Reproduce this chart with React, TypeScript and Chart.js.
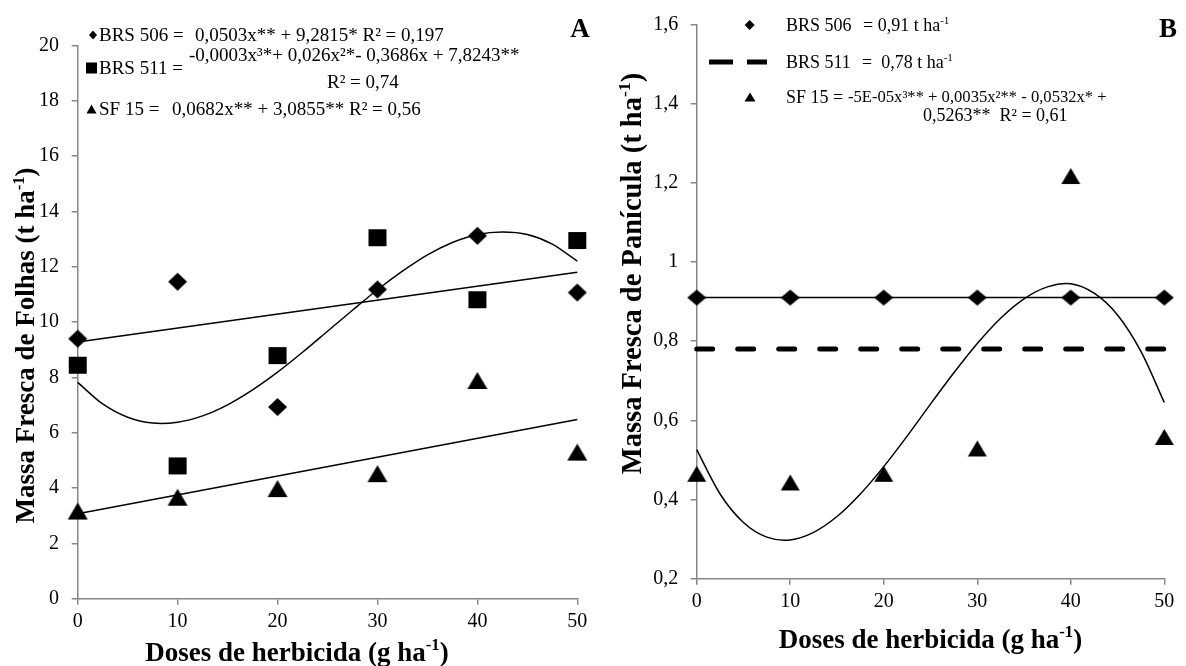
import React, { useEffect, useRef } from 'react';
import { Chart, registerables } from 'chart.js';

Chart.register(...registerables);

const SERIF = '"Liberation Serif", "Times New Roman", Times, serif';
const AXIS_GRAY = '#878787';
const TICK_SIZE = 20;
const LEG = 19;
const LEG_B = 18;

// ---------- Chart A : Massa Fresca de Folhas ----------
const dosesA = [0, 10, 20, 30, 40, 50];
const brs506A = [9.40, 11.46, 6.93, 11.18, 13.12, 11.07];
const brs511A = [8.44, 4.80, 8.79, 13.05, 10.81, 12.95];
const sf15A = [3.17, 3.67, 3.98, 4.52, 7.89, 5.30];
const fitLinX = [0, 50];
const brs506FitA = [9.28, 11.80];
const sf15FitA = [3.07, 6.48];
const fitCurveX = [0, 2.5, 5, 7.5, 10, 12.5, 15, 17.5, 20, 22.5, 25, 27.5, 30, 32.5, 35, 37.5, 40, 42.5, 45, 47.5, 50];
const brs511FitA = [7.82, 7.04, 6.56, 6.35, 6.38, 6.61, 7.01, 7.55, 8.19, 8.91, 9.67, 10.43, 11.17, 11.84, 12.43, 12.88, 13.17, 13.26, 13.17, 12.82, 12.20];
const xTicks = [0, 10, 20, 30, 40, 50];
const xTickLabels = ['0', '10', '20', '30', '40', '50'];
const yTicksA = [0, 2, 4, 6, 8, 10, 12, 14, 16, 18, 20];
const yTickLabelsA = ['0', '2', '4', '6', '8', '10', '12', '14', '16', '18', '20'];

// ---------- Chart B : Massa Fresca de Panícula ----------
const dosesB = [0, 10, 20, 30, 40, 50];
const brs506B = [0.91, 0.91, 0.91, 0.91, 0.91, 0.91];
const brs511LineX = [0, 50];
const brs511B = [0.78, 0.78];
const sf15B = [0.465, 0.443, 0.465, 0.529, 1.217, 0.558];
const sf15FitB = [0.526, 0.414, 0.342, 0.305, 0.298, 0.317, 0.357, 0.414, 0.483, 0.560, 0.641, 0.720, 0.794, 0.858, 0.907, 0.937, 0.945, 0.921, 0.866, 0.774, 0.645];
const yTicksB = [0.2, 0.4, 0.6, 0.8, 1.0, 1.2, 1.4, 1.6];
const yTickLabelsB = ['0,2', '0,4', '0,6', '0,8', '1', '1,2', '1,4', '1,6'];

const pts = (xs: number[], ys: number[]) => xs.map((x, i) => ({ x, y: ys[i] }));

type Shape = 'diamond' | 'square' | 'triangle';

function markerPath(ctx: CanvasRenderingContext2D, shape: Shape, x: number, y: number, w: number, h: number) {
  ctx.beginPath();
  if (shape === 'diamond') {
    ctx.moveTo(x, y - h / 2);
    ctx.lineTo(x + w / 2, y);
    ctx.lineTo(x, y + h / 2);
    ctx.lineTo(x - w / 2, y);
  } else if (shape === 'square') {
    ctx.rect(x - w / 2, y - h / 2, w, h);
  } else {
    ctx.moveTo(x, y - h / 2);
    ctx.lineTo(x + w / 2, y + h / 2);
    ctx.lineTo(x - w / 2, y + h / 2);
  }
  ctx.closePath();
}

function drawMarker(ctx: CanvasRenderingContext2D, shape: Shape, x: number, y: number, w: number, h: number) {
  markerPath(ctx, shape, x, y, w, h);
  ctx.fillStyle = '#000';
  ctx.fill();
}

function makeMarker(shape: Shape, w: number, h: number) {
  const c = document.createElement('canvas');
  c.width = Math.ceil(w) + 2;
  c.height = Math.ceil(h) + 2;
  const ctx = c.getContext('2d') as CanvasRenderingContext2D;
  drawMarker(ctx, shape, c.width / 2, c.height / 2, w, h);
  return c;
}

type Seg = [string, boolean?];

function rich(ctx: CanvasRenderingContext2D, segs: Seg[], x: number, cy: number, size: number, bold: boolean, align: 'left' | 'center') {
  const b = bold ? 'bold ' : '';
  const base = `${b}${size}px ${SERIF}`;
  const sup = `${b}${(size * 0.62).toFixed(1)}px ${SERIF}`;
  let total = 0;
  const ws = segs.map(([t, s]) => {
    ctx.font = s ? sup : base;
    const m = ctx.measureText(t).width;
    total += m;
    return m;
  });
  let cx = align === 'center' ? x - total / 2 : x;
  const baseY = cy + size * 0.33;
  ctx.fillStyle = '#000';
  ctx.textAlign = 'left';
  ctx.textBaseline = 'alphabetic';
  segs.forEach(([t, s], i) => {
    ctx.font = s ? sup : base;
    ctx.fillText(t, cx, s ? baseY - size * 0.4 : baseY);
    cx += ws[i];
  });
}

function scaleCfg(axis: 'x' | 'y', min: number, max: number, ticks: number[], labels: string[], fit: number, padding: number) {
  return {
    type: 'linear',
    position: axis === 'x' ? 'bottom' : 'left',
    min,
    max,
    afterBuildTicks: (s: any) => {
      s.ticks = ticks.map((v) => ({ value: v }));
    },
    afterFit: (s: any) => {
      if (axis === 'x') s.height = fit;
      else s.width = fit;
    },
    ticks: {
      autoSkip: false,
      maxRotation: 0,
      minRotation: 0,
      padding,
      color: '#000',
      font: { family: SERIF, size: TICK_SIZE },
      callback: (v: any) => {
        const i = ticks.findIndex((t) => Math.abs(t - Number(v)) < 1e-9);
        return i >= 0 ? labels[i] : '';
      },
    },
    grid: {
      display: true,
      drawOnChartArea: false,
      drawTicks: true,
      tickLength: 6,
      color: AXIS_GRAY,
      lineWidth: 1.5,
    },
    border: { display: true, color: AXIS_GRAY, width: 1.5 },
    title: { display: false },
  };
}

const annotA = {
  id: 'annotA',
  afterDraw(chart: any) {
    const ctx: CanvasRenderingContext2D = chart.ctx;
    ctx.save();
    drawMarker(ctx, 'diamond', 93, 35, 8, 9);
    rich(ctx, [['BRS 506 =']], 99, 35, LEG, false, 'left');
    rich(ctx, [['0,0503x** + 9,2815* R² = 0,197']], 195, 35, LEG, false, 'left');
    drawMarker(ctx, 'square', 91.5, 68, 11, 11);
    rich(ctx, [['BRS 511 =']], 99, 68, LEG, false, 'left');
    rich(ctx, [['-0,0003x³*+ 0,026x²*- 0,3686x + 7,8243**']], 189, 55, LEG, false, 'left');
    rich(ctx, [['R² = 0,74']], 327, 82, LEG, false, 'left');
    drawMarker(ctx, 'triangle', 91.5, 109, 10, 9);
    rich(ctx, [['SF 15 =']], 99, 109, LEG, false, 'left');
    rich(ctx, [['0,0682x** + 3,0855** R² = 0,56']], 172, 109, LEG, false, 'left');
    rich(ctx, [['A']], 580, 28, 27, true, 'center');
    rich(ctx, [['Doses de herbicida (g ha'], ['-1', true], [')']], 297, 652, 27, true, 'center');
    ctx.translate(25.5, 345.5);
    ctx.rotate(-Math.PI / 2);
    rich(ctx, [['Massa Fresca de Folhas (t ha'], ['-1', true], [')']], 0, 0, 27, true, 'center');
    ctx.restore();
  },
};

const annotB = {
  id: 'annotB',
  afterDraw(chart: any) {
    const ctx: CanvasRenderingContext2D = chart.ctx;
    ctx.save();
    drawMarker(ctx, 'diamond', 156.6, 25, 10, 10);
    rich(ctx, [['BRS 506']], 193, 25, LEG_B, false, 'left');
    rich(ctx, [['= 0,91 t ha'], ['-1', true]], 270, 25, LEG_B, false, 'left');
    ctx.save();
    ctx.strokeStyle = '#000';
    ctx.lineWidth = 5;
    ctx.setLineDash([24, 14]);
    ctx.beginPath();
    ctx.moveTo(116, 62);
    ctx.lineTo(174, 62);
    ctx.stroke();
    ctx.restore();
    rich(ctx, [['BRS 511']], 193, 62, LEG_B, false, 'left');
    rich(ctx, [['=  0,78 t ha'], ['-1', true]], 269, 62, LEG_B, false, 'left');
    drawMarker(ctx, 'triangle', 157, 97, 11, 9);
    rich(ctx, [['SF 15 =']], 193, 97, LEG_B, false, 'left');
    rich(ctx, [['-5E-05x³** + 0,0035x²** - 0,0532x* +']], 255, 97, 16.6, false, 'left');
    rich(ctx, [['0,5263**  R² = 0,61']], 330, 115, LEG_B, false, 'left');
    rich(ctx, [['B']], 575, 28, 27, true, 'center');
    rich(ctx, [['Doses de herbicida (g ha'], ['-1', true], [')']], 337.5, 639, 27, true, 'center');
    ctx.translate(38.5, 273.5);
    ctx.rotate(-Math.PI / 2);
    rich(ctx, [['Massa Fresca de Panícula (t ha'], ['-1', true], [')']], 0, 0, 28.5, true, 'center');
    ctx.restore();
  },
};

export default function App() {
  const refA = useRef<HTMLCanvasElement | null>(null);
  const refB = useRef<HTMLCanvasElement | null>(null);

  useEffect(() => {
    if (!refA.current || !refB.current) return;
    const diamondBig = makeMarker('diamond', 19, 18);
    const squareBig = makeMarker('square', 18, 17);
    const triBig = makeMarker('triangle', 20, 17);
    const diamondB = makeMarker('diamond', 19, 16);
    const triB = makeMarker('triangle', 19, 16);

    const pointDs = (label: string, data: any[], img: any) => ({
      label,
      data,
      pointStyle: img,
      pointRadius: 9,
      pointHoverRadius: 9,
      showLine: false,
      clip: false,
      order: 1,
    });
    const lineDs = (label: string, data: any[], extra: any = {}) => ({
      label,
      data,
      showLine: true,
      pointRadius: 0,
      pointHoverRadius: 0,
      borderColor: '#000',
      borderWidth: 1.5,
      fill: false,
      clip: false,
      order: 2,
      ...extra,
    });

    const chartA = new Chart(refA.current, {
      type: 'scatter',
      data: {
        datasets: [
          pointDs('BRS 506', pts(dosesA, brs506A), diamondBig),
          pointDs('BRS 511', pts(dosesA, brs511A), squareBig),
          pointDs('SF 15', pts(dosesA, sf15A), triBig),
          lineDs('BRS 506 ajuste', pts(fitLinX, brs506FitA)),
          lineDs('BRS 511 ajuste', pts(fitCurveX, brs511FitA), { tension: 0.3 }),
          lineDs('SF 15 ajuste', pts(fitLinX, sf15FitA)),
        ],
      },
      options: {
        responsive: false,
        animation: false,
        events: [],
        layout: { padding: { left: 0, right: 15.7, top: 45.5, bottom: 7.3 } },
        plugins: { legend: { display: false }, tooltip: { enabled: false } },
        scales: {
          x: scaleCfg('x', 0, 50, xTicks, xTickLabels, 60, 5),
          y: scaleCfg('y', 0, 20, yTicksA, yTickLabelsA, 77.7, 12.7),
        },
      } as any,
      plugins: [annotA],
    } as any);

    const chartB = new Chart(refB.current, {
      type: 'scatter',
      data: {
        datasets: [
          {
            label: 'BRS 506',
            data: pts(dosesB, brs506B),
            pointStyle: diamondB,
            pointRadius: 9,
            pointHoverRadius: 9,
            showLine: true,
            borderColor: '#000',
            borderWidth: 1.5,
            clip: false,
            order: 1,
          },
          lineDs('BRS 511', pts(brs511LineX, brs511B), { borderWidth: 5, borderDash: [16, 25], borderCapStyle: 'round', order: 3 }),
          pointDs('SF 15', pts(dosesB, sf15B), triB),
          lineDs('SF 15 ajuste', pts(fitCurveX, sf15FitB), { tension: 0.3 }),
        ],
      },
      options: {
        responsive: false,
        animation: false,
        events: [],
        layout: { padding: { left: 0, right: 21.7, top: 20.7, bottom: 27.3 } },
        plugins: { legend: { display: false }, tooltip: { enabled: false } },
        scales: {
          x: scaleCfg('x', 0, 50, xTicks, xTickLabels, 60, 5),
          y: scaleCfg('y', 0.2, 1.6, yTicksB, yTickLabelsB, 103.7, 12.4),
        },
      } as any,
      plugins: [annotB],
    } as any);

    return () => {
      chartA.destroy();
      chartB.destroy();
    };
  }, []);

  return (
    <div style={{ position: 'absolute', left: 0, top: 0, width: 1186, height: 666, background: '#fff', overflow: 'hidden' }}>
      <canvas ref={refA} width={593} height={666} style={{ position: 'absolute', left: 0, top: 0 }} />
      <canvas ref={refB} width={593} height={666} style={{ position: 'absolute', left: 593, top: 0 }} />
    </div>
  );
}
